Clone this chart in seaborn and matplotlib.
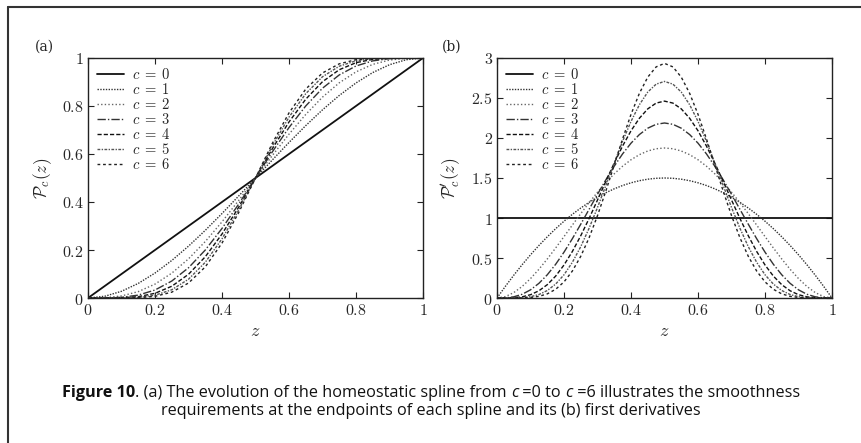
import numpy as np
import pandas as pd
import matplotlib
matplotlib.use("Agg")
import matplotlib.pyplot as plt
import seaborn as sns
from matplotlib.lines import Line2D

# values
# (a) spline P_c(z), sampled every 0.05
z_a = [0.0, 0.05, 0.1, 0.15, 0.2, 0.25, 0.3, 0.35, 0.4, 0.45, 0.5,
       0.55, 0.6, 0.65, 0.7, 0.75, 0.8, 0.85, 0.9, 0.95, 1.0]
P0 = [0.0, 0.05, 0.1, 0.15, 0.2, 0.25, 0.3, 0.35, 0.4, 0.45, 0.5,
      0.55, 0.6, 0.65, 0.7, 0.75, 0.8, 0.85, 0.9, 0.95, 1.0]
P1 = [0.0, 0.0073, 0.028, 0.0608, 0.104, 0.1563, 0.216, 0.2818, 0.352, 0.4253, 0.5,
      0.5748, 0.648, 0.7183, 0.784, 0.8438, 0.896, 0.9393, 0.972, 0.9928, 1.0]
P2 = [0.0, 0.0012, 0.0086, 0.0266, 0.0579, 0.1035, 0.1631, 0.2352, 0.3174, 0.4069, 0.5,
      0.5931, 0.6826, 0.7648, 0.8369, 0.8965, 0.9421, 0.9734, 0.9914, 0.9988, 1.0]
P3 = [0.0, 0.0002, 0.0027, 0.0121, 0.0333, 0.0706, 0.126, 0.1998, 0.2898, 0.3917, 0.5,
      0.6083, 0.7102, 0.8002, 0.874, 0.9294, 0.9667, 0.9879, 0.9973, 0.9998, 1.0]
P4 = [0.0, 0.0, 0.0009, 0.0056, 0.0196, 0.0489, 0.0988, 0.1717, 0.2666, 0.3786, 0.5,
      0.6214, 0.7334, 0.8283, 0.9012, 0.9511, 0.9804, 0.9944, 0.9991, 1.0, 1.0]
P5 = [0.0, 0.0, 0.0003, 0.0027, 0.0117, 0.0343, 0.0782, 0.1487, 0.2465, 0.3669, 0.5,
      0.6331, 0.7535, 0.8513, 0.9218, 0.9657, 0.9883, 0.9973, 0.9997, 1.0, 1.0]
P6 = [0.0, 0.0, 0.0001, 0.0013, 0.007, 0.0243, 0.0624, 0.1295, 0.2288, 0.3563, 0.5,
      0.6437, 0.7712, 0.8705, 0.9376, 0.9757, 0.993, 0.9987, 0.9999, 1.0, 1.0]

# (b) first derivative P'_c(z), sampled every 0.025
z_b = [0.0, 0.025, 0.05, 0.075, 0.1, 0.125, 0.15, 0.175, 0.2, 0.225, 0.25,
       0.275, 0.3, 0.325, 0.35, 0.375, 0.4, 0.425, 0.45, 0.475, 0.5,
       0.525, 0.55, 0.575, 0.6, 0.625, 0.65, 0.675, 0.7, 0.725, 0.75,
       0.775, 0.8, 0.825, 0.85, 0.875, 0.9, 0.925, 0.95, 0.975, 1.0]
D0 = [1.0] * 41
D1 = [0.0, 0.1463, 0.285, 0.4163, 0.54, 0.6563, 0.765, 0.8663, 0.96, 1.0463, 1.125,
      1.1963, 1.26, 1.3163, 1.365, 1.4063, 1.44, 1.4663, 1.485, 1.4963, 1.5,
      1.4963, 1.485, 1.4663, 1.44, 1.4063, 1.365, 1.3163, 1.26, 1.1963, 1.125,
      1.0463, 0.96, 0.8663, 0.765, 0.6563, 0.54, 0.4163, 0.285, 0.1463, 0.0]
D2 = [0.0, 0.0178, 0.0677, 0.1444, 0.243, 0.3589, 0.4877, 0.6253, 0.768, 0.9122, 1.0547,
      1.1925, 1.323, 1.4438, 1.5527, 1.6479, 1.728, 1.7916, 1.8377, 1.8656, 1.875,
      1.8656, 1.8377, 1.7916, 1.728, 1.6479, 1.5527, 1.4438, 1.323, 1.1925, 1.0547,
      0.9122, 0.768, 0.6253, 0.4877, 0.3589, 0.243, 0.1444, 0.0677, 0.0178, 0.0]
D3 = [0.0, 0.002, 0.015, 0.0467, 0.1021, 0.1832, 0.2902, 0.4213, 0.5734, 0.7423, 0.9229,
      1.1095, 1.2965, 1.4781, 1.6484, 1.8024, 1.9354, 2.0431, 2.1225, 2.1711, 2.1875,
      2.1711, 2.1225, 2.0431, 1.9354, 1.8024, 1.6484, 1.4781, 1.2965, 1.1095, 0.9229,
      0.7423, 0.5734, 0.4213, 0.2902, 0.1832, 0.1021, 0.0467, 0.015, 0.002, 0.0]
D4 = [0.0, 0.0002, 0.0032, 0.0146, 0.0413, 0.0902, 0.1665, 0.2737, 0.4129, 0.5825, 0.7787,
      0.9955, 1.2252, 1.4591, 1.6876, 1.901, 2.0902, 2.2468, 2.364, 2.4364, 2.4609,
      2.4364, 2.364, 2.2468, 2.0902, 1.901, 1.6876, 1.4591, 1.2252, 0.9955, 0.7787,
      0.5825, 0.4129, 0.2737, 0.1665, 0.0902, 0.0413, 0.0146, 0.0032, 0.0002, 0.0]
D5 = [0.0, 0.0, 0.0007, 0.0045, 0.0164, 0.0434, 0.0934, 0.1739, 0.2907, 0.4469, 0.6424,
      0.8733, 1.1321, 1.4084, 1.6893, 1.9604, 2.2072, 2.4159, 2.5744, 2.6734, 2.707,
      2.6734, 2.5744, 2.4159, 2.2072, 1.9604, 1.6893, 1.4084, 1.1321, 0.8733, 0.6424,
      0.4469, 0.2907, 0.1739, 0.0934, 0.0434, 0.0164, 0.0045, 0.0007, 0.0, 0.0]
D6 = [0.0, 0.0, 0.0001, 0.0013, 0.0064, 0.0206, 0.0516, 0.1088, 0.2015, 0.3377, 0.5219,
      0.7545, 1.0302, 1.3389, 1.6653, 1.9911, 2.2955, 2.5583, 2.761, 2.8889, 2.9326,
      2.8889, 2.761, 2.5583, 2.2955, 1.9911, 1.6653, 1.3389, 1.0302, 0.7545, 0.5219,
      0.3377, 0.2015, 0.1088, 0.0516, 0.0206, 0.0064, 0.0013, 0.0001, 0.0, 0.0]

c_labels = [r"$c\;=\;0$", r"$c\;=\;1$", r"$c\;=\;2$", r"$c\;=\;3$",
            r"$c\;=\;4$", r"$c\;=\;5$", r"$c\;=\;6$"]

# long-form tables for seaborn
df_a = pd.concat([pd.DataFrame({"z": z_a, "P": v, "c": lab})
                  for v, lab in zip([P0, P1, P2, P3, P4, P5, P6], c_labels)])
df_b = pd.concat([pd.DataFrame({"z": z_b, "P": v, "c": lab})
                  for v, lab in zip([D0, D1, D2, D3, D4, D5, D6], c_labels)])

sns.set_style("ticks")
plt.rcParams["mathtext.fontset"] = "cm"
plt.rcParams["font.family"] = ["DejaVu Serif"]

colors = dict(zip(c_labels, ["#111111", "#333333", "#666666", "#333333",
                             "#111111", "#555555", "#222222"]))
dashes = dict(zip(c_labels, ["", (1, 1), (1, 1.6), (6, 1.5, 1, 1.5),
                             (3, 1.5), (2, 1, 1, 1), (2, 2)]))
widths = [1.3, 1.0, 1.0, 1.0, 1.0, 1.0, 1.0]

fig = plt.figure(figsize=(8.62, 4.43), dpi=100)
ax_a = fig.add_axes([0.1021, 0.3273, 0.3886, 0.5418])
ax_b = fig.add_axes([0.5766, 0.3273, 0.3886, 0.5418])

fmt = matplotlib.ticker.FuncFormatter(lambda v, p: r"$\mathbf{%g}$" % round(v, 2))

for ax, df, yticks, ylab in [(ax_a, df_a, np.arange(0, 1.01, 0.2), r"$\mathcal{P}_c(z)$"),
                             (ax_b, df_b, np.arange(0, 3.01, 0.5), r"$\mathcal{P}^{\prime}_c(z)$")]:
    sns.lineplot(data=df, x="z", y="P", hue="c", style="c", palette=colors,
                 dashes=dashes, ax=ax, legend=False, linewidth=1.0, sort=False)
    for ln, w in zip(ax.get_lines(), widths):
        ln.set_linewidth(w)
    ax.set_xlim(0, 1)
    ax.set_ylim(yticks[0], yticks[-1])
    ax.set_xticks(np.arange(0, 1.01, 0.2))
    ax.set_yticks(yticks)
    ax.xaxis.set_major_formatter(fmt)
    ax.yaxis.set_major_formatter(fmt)
    ax.tick_params(direction="in", top=True, right=True, length=4, width=0.8,
                   labelsize=11.5, pad=3, color="#222222")
    for s in ax.spines.values():
        s.set_linewidth(1.0)
        s.set_color("#222222")
    ax.set_xlabel("$z$", fontsize=13, labelpad=2)
    ax.set_ylabel(ylab, fontsize=12.5, labelpad=6)
    handles = [Line2D([], [], color=colors[l], linestyle=(0, dashes[l]) if dashes[l] else "-",
                      linewidth=w) for l, w in zip(c_labels, widths)]
    ax.legend(handles, c_labels, loc="upper left", frameon=False, fontsize=10.5,
              handlelength=1.9, handletextpad=0.5, labelspacing=0.0,
              borderaxespad=0.2)

fig.text(0.041, 0.885, "(a)", fontsize=10)
fig.text(0.513, 0.885, "(b)", fontsize=10)

# caption
cap = dict(fontsize=11.7, family="Open Sans", color="#111111")
y1 = 1 - 397 / 443
t0 = fig.text(0.5, y1, "Figure 10", weight="bold", **cap)
parts = [(". (a) The evolution of the homeostatic spline from ", "normal"),
         ("c", "italic"), (" =0 to ", "normal"), ("c", "italic"),
         (" =6 illustrates the smoothness", "normal")]
prev = t0
pieces = [t0]
for s, st in parts:
    prev = ax_a.annotate(s, xy=(1, 0), xycoords=prev, va="bottom", ha="left",
                         style=st, annotation_clip=False, **cap)
    pieces.append(prev)
fig.canvas.draw()
r = fig.canvas.get_renderer()
x_left = t0.get_window_extent(r).x0
x_right = pieces[-1].get_window_extent(r).x1
t0.set_x(0.5 + (431 - (x_left + x_right) / 2) / 862)
fig.text(0.5, 1 - 415 / 443, "requirements at the endpoints of each spline and its (b) first derivatives",
         ha="center", **cap)

# border lines (top and left)
fig.add_artist(Line2D([8 / 862, 1], [1 - 7 / 443, 1 - 7 / 443], color="#333333", lw=1.5))
fig.add_artist(Line2D([8 / 862, 8 / 862], [0, 1 - 7 / 443], color="#333333", lw=1.5))

fig.savefig("out.png", dpi=100)
